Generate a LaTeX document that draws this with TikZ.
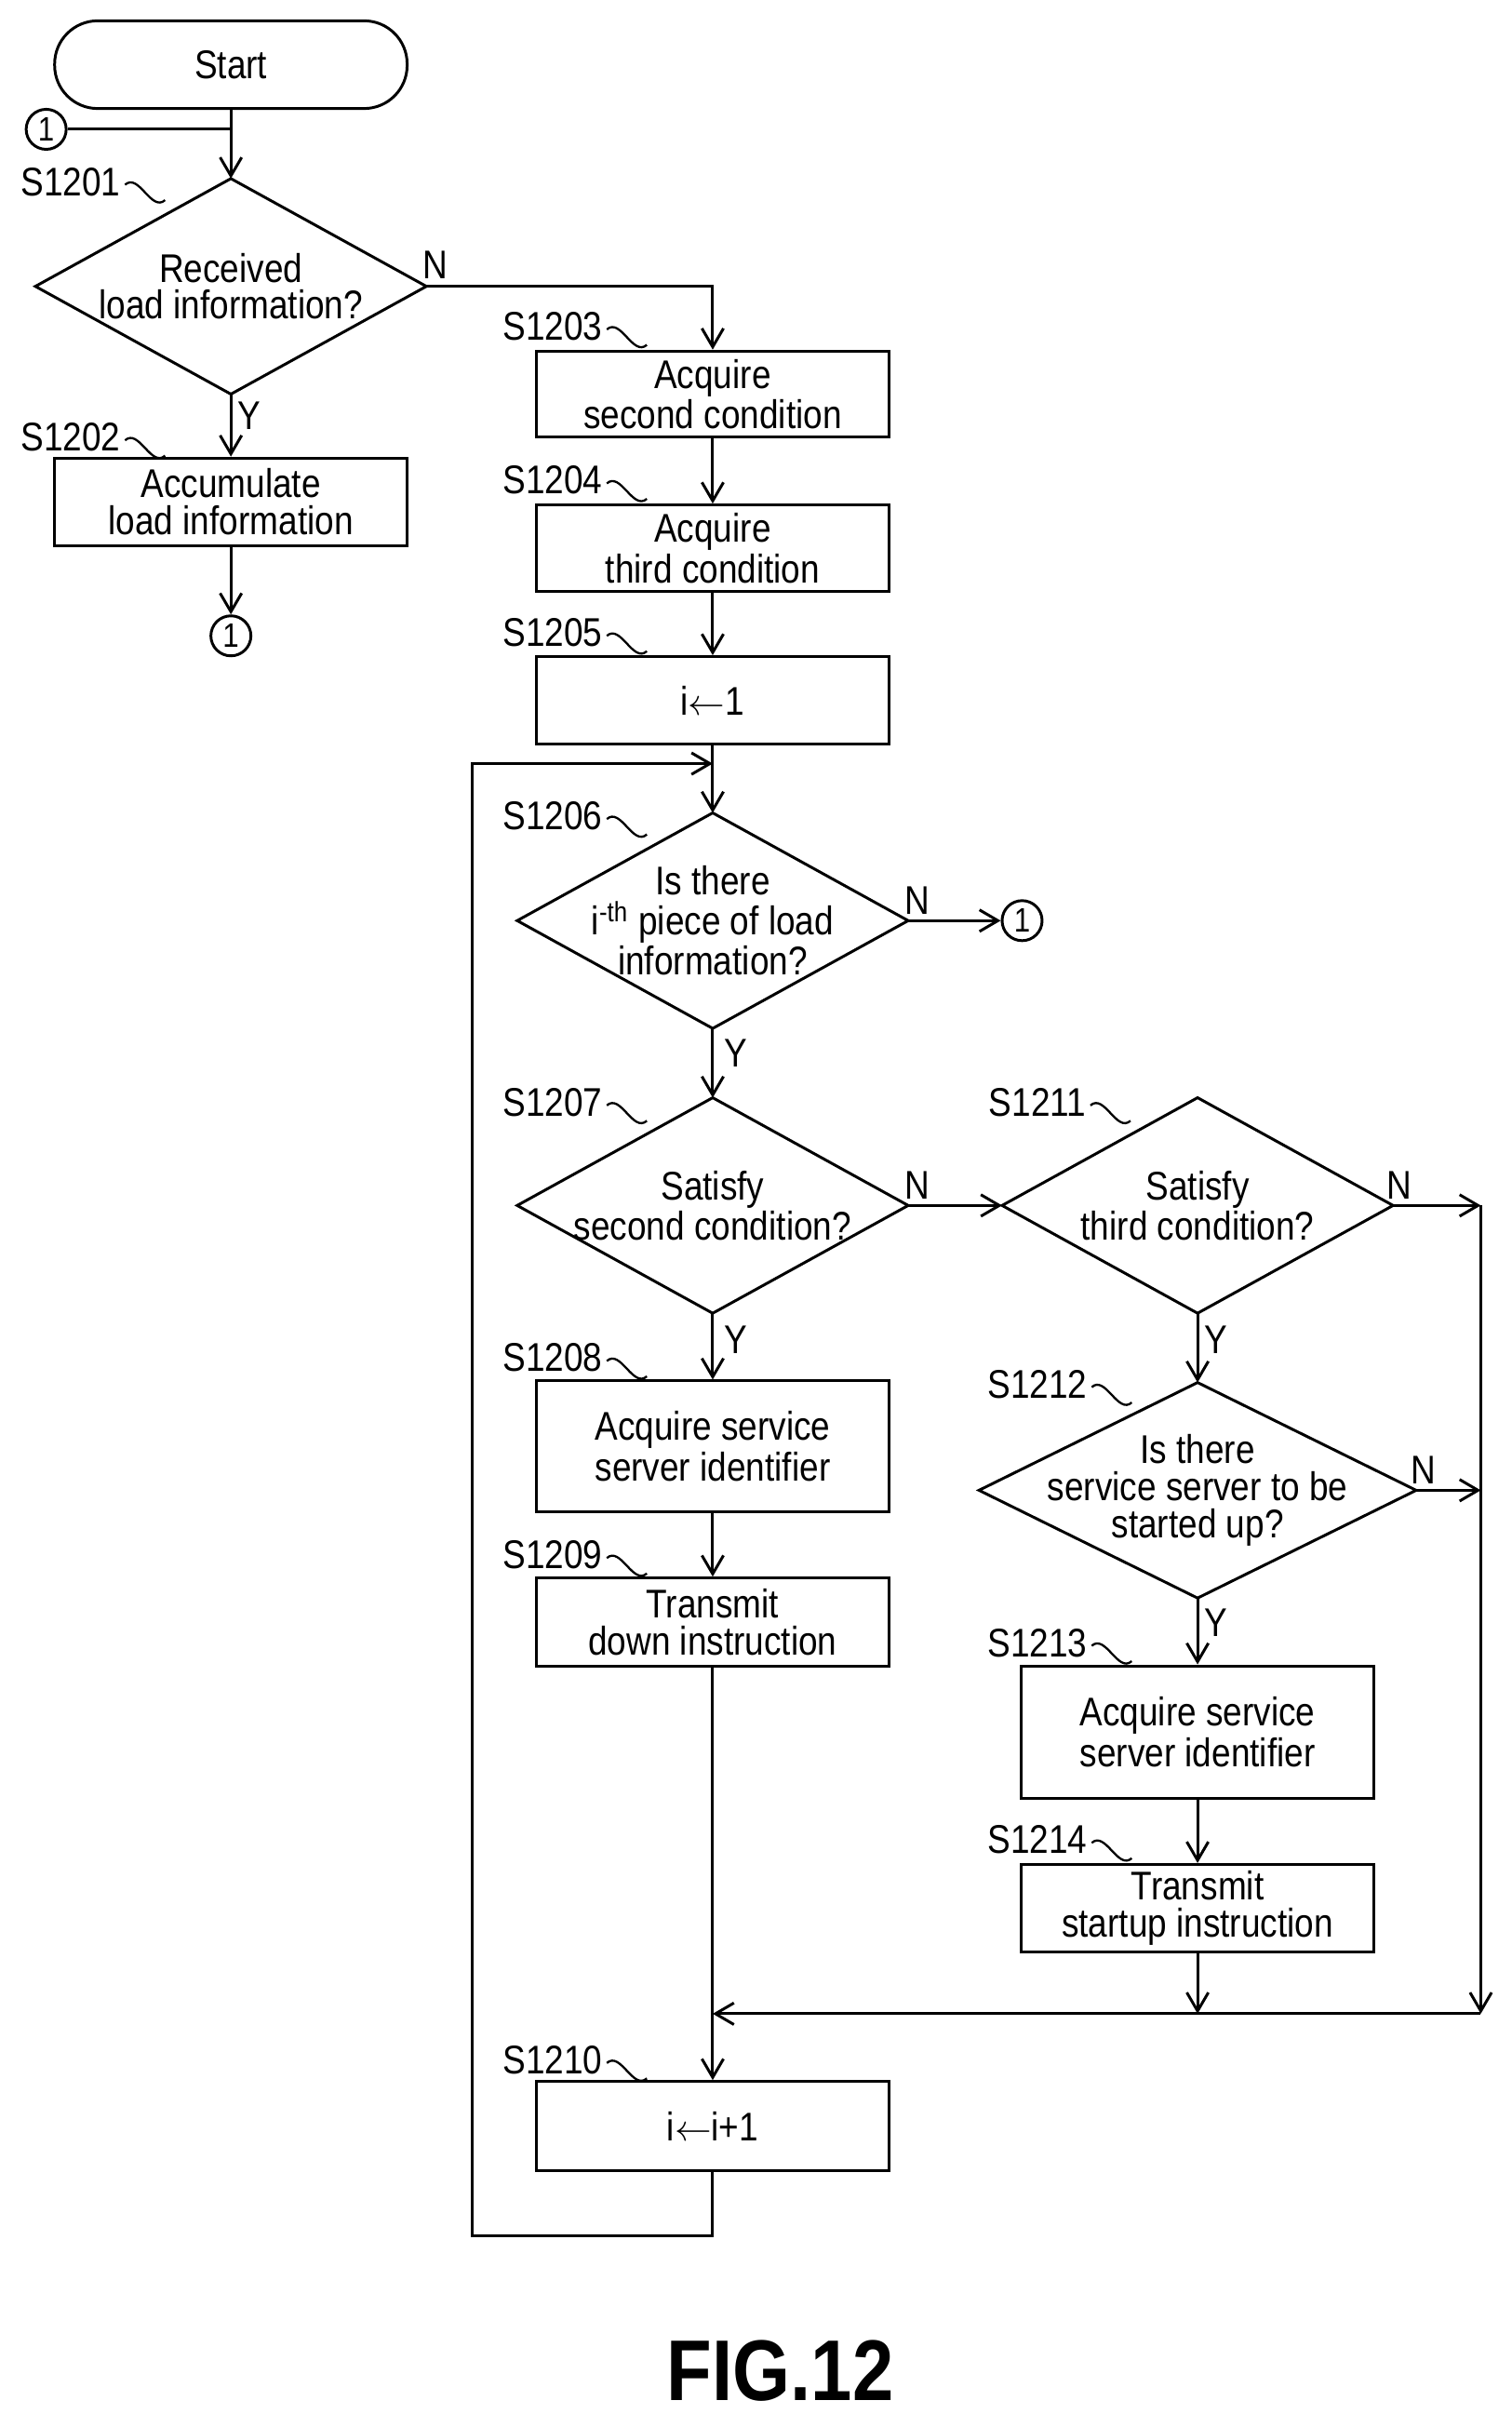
\documentclass[tikz,border=0pt]{standalone}
\usepackage{fontspec}
\setmainfont{Liberation Sans}[FakeStretch=0.86]
\usetikzlibrary{arrows.meta}
\begin{document}
\begin{tikzpicture}[x=0.5pt,y=-0.5pt,line width=0.9pt,
  every node/.style={font=\fontsize{13}{12}\selectfont,align=center},
  box/.style={draw,minimum width=114.5pt,inner sep=0pt},
  term/.style={draw,rounded corners=14pt,minimum width=114.5pt,minimum height=28.5pt},
  conn/.style={draw,circle,inner sep=0pt,minimum size=13pt,font=\fontsize{11}{11}\selectfont},
  arr/.style={-{Straight Barb[length=6pt,width=7pt]}},
  lbl/.style={font=\fontsize{13}{13}\selectfont,inner sep=1pt},
  yn/.style={font=\fontsize{13}{13}\selectfont,inner sep=0pt},
  sq/.style={line width=0.7pt}]
\useasboundingbox (0,0) rectangle (982,1568);
\newcommand{\mydia}[6]{% name, cx, cy, halfwidth, halfheight, text
  \node[inner sep=0pt] (#1) at (#2,#3) {#6};
  \coordinate (#1T) at (#2,#3-#5);
  \coordinate (#1B) at (#2,#3+#5);
  \coordinate (#1L) at (#2-#4,#3);
  \coordinate (#1R) at (#2+#4,#3);
  \draw (#1T) -- (#1R) -- (#1B) -- (#1L) -- cycle;}
\node[term] (start) at (150,42) {Start};
\node[conn] (c1a) at (30,84) {1};
\coordinate (j0) at (150,84);
\mydia{d1201}{150}{186}{127}{70}{Received\\load information?}
\node[box,minimum height=28.5pt] (b1202) at (150,326) {Accumulate\\load information};
\node[conn] (c1b) at (150,413) {1};
\node[box,minimum height=28pt] (b1203) at (463,256) {Acquire\\second condition};
\node[box,minimum height=28pt] (b1204) at (463,356) {Acquire\\third condition};
\node[box,minimum height=28.5pt] (b1205) at (463,455) {i$\leftarrow$1};
\mydia{d1206}{463}{598}{127}{70}{Is there\\[1pt]i\textsuperscript{-th} piece of load\\information?}
\node[conn] (c1c) at (664,598) {1};
\mydia{d1207}{463}{783}{127}{70}{Satisfy\\second condition?}
\mydia{d1211}{778}{783}{127}{70}{Satisfy\\third condition?}
\mydia{d1212}{778}{968}{142}{70}{Is there\\service server to be\\started up?}
\node[box,minimum height=42.5pt] (b1208) at (463,939.5) {Acquire service\\server identifier};
\node[box,minimum height=28.5pt] (b1209) at (463,1053.5) {Transmit\\down instruction};
\node[box,minimum height=43pt] (b1213) at (778,1125) {Acquire service\\server identifier};
\node[box,minimum height=28.5pt] (b1214) at (778,1239.5) {Transmit\\startup instruction};
\node[box,minimum height=29pt] (b1210) at (463,1381) {i$\leftarrow$i+1};
\node[font=\bfseries\fontsize{28}{28}\selectfont] (fig) at (507,1540) {FIG.12};
\foreach \n/\x/\y/\t in {l1/46/118/S1201,l2/46/284/S1202,l3/359/212/S1203,l4/359/312/S1204,l5/359/411/S1205,l6/359/530/S1206,l7/359/716/S1207,l8/359/882/S1208,l9/359/1010/S1209,l10/359/1338/S1210,l11/674/716/S1211,l12/674/899/S1212,l13/674/1067/S1213,l14/674/1195/S1214}{
  \node[lbl] (\n) at (\x,\y) {\t};
  \draw[sq] (\n.east) ++(0,2) .. controls +(9,-8) and +(-9,8) .. ++(26,10);
}
\node[yn] (n1) at (283,172) {N};
\node[yn] (y1) at (162,270) {Y};
\node[yn] (n6) at (596,585) {N};
\node[yn] (y6) at (478,684) {Y};
\node[yn] (n7) at (596,770) {N};
\node[yn] (y7) at (478,870) {Y};
\node[yn] (n11) at (909,770) {N};
\node[yn] (y11) at (790,870) {Y};
\node[yn] (n12) at (925,955) {N};
\node[yn] (y12) at (790,1054) {Y};
\coordinate (r1) at (962,783);
\coordinate (r2) at (962,968);
\coordinate (r3) at (962,1308);
\coordinate (m) at (463,1308);
\coordinate (m2) at (778,1308);
\coordinate (lb) at (463,1452);
\coordinate (lc) at (307,1452);
\coordinate (ld) at (307,496);
\coordinate (le) at (463,496);
\draw (start.south) -- (j0);
\draw[arr] (c1a.east) -- (j0) -- (d1201T);
\draw[arr] (d1201B) -- (b1202.north);
\draw[arr] (b1202.south) -- (c1b.north);
\draw[arr] (d1201R) -| (b1203.north);
\draw[arr] (b1203) -- (b1204);
\draw[arr] (b1204) -- (b1205);
\draw[arr] (b1205.south) -- (d1206T);
\draw[arr] (d1206R) -- (c1c.west);
\draw[arr] (d1206B) -- (d1207T);
\draw[arr] (d1207R) -- (d1211L);
\draw[arr] (d1207B) -- (b1208.north);
\draw[arr] (b1208) -- (b1209);
\draw[arr] (b1209.south) -- (b1210.north);
\draw[arr] (d1211B) -- (d1212T);
\draw[arr] (d1212B) -- (b1213.north);
\draw[arr] (b1213) -- (b1214);
\draw[arr] (b1214.south) -- (m2);
\draw[arr] (d1211R) -- (r1);
\draw[arr] (d1212R) -- (r2);
\draw[arr] (r1) -- (r3);
\draw[arr] (r3) -- (m);
\draw[arr] (b1210.south) -- (lb) -- (lc) -- (ld) -- (le);
\end{tikzpicture}
\end{document}
